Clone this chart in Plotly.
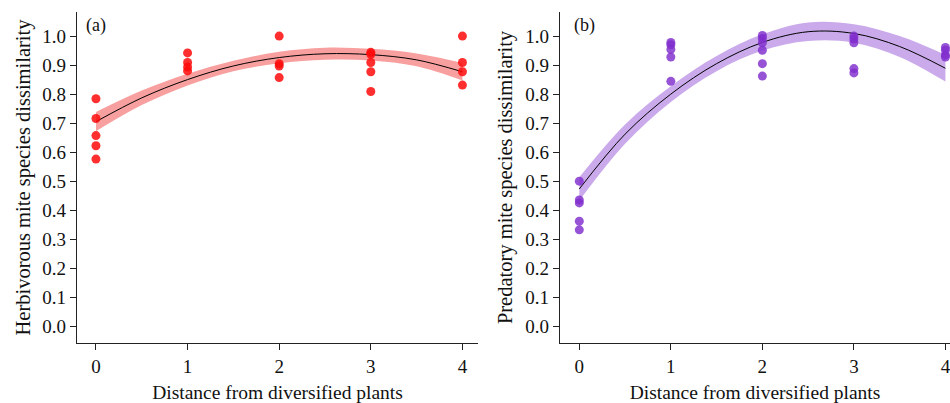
import plotly.graph_objects as go
from plotly.subplots import make_subplots

# ---------------- data ----------------
x_ticks = [0, 1, 2, 3, 4]
y_ticks = [0.0, 0.1, 0.2, 0.3, 0.4, 0.5, 0.6, 0.7, 0.8, 0.9, 1.0]

# Panel (a) herbivorous mites – observed points
herb_x = [0, 0, 0, 0, 0,
          1, 1, 1, 1,
          2, 2, 2, 2,
          3, 3, 3, 3, 3,
          4, 4, 4, 4]
herb_y = [0.784, 0.716, 0.657, 0.622, 0.576,
          0.942, 0.909, 0.893, 0.880,
          1.000, 0.905, 0.897, 0.857,
          0.944, 0.937, 0.909, 0.877, 0.809,
          1.000, 0.909, 0.877, 0.831]

# Panel (a) fitted curve with confidence band
fit_x = [0, 0.5, 1, 1.5, 2, 2.5, 3, 3.5, 4]
herb_fit = [0.705, 0.787, 0.850, 0.897, 0.926, 0.939, 0.936, 0.918, 0.877]
herb_lo = [0.672, 0.762, 0.830, 0.879, 0.906, 0.918, 0.916, 0.896, 0.847]
herb_hi = [0.738, 0.812, 0.870, 0.915, 0.946, 0.960, 0.956, 0.940, 0.907]

# Panel (b) predatory mites – observed points
pred_x = [0, 0, 0, 0, 0,
          1, 1, 1, 1, 1,
          2, 2, 2, 2, 2, 2,
          3, 3, 3, 3, 3,
          4, 4, 4, 4]
pred_y = [0.500, 0.435, 0.425, 0.362, 0.332,
          0.978, 0.970, 0.954, 0.928, 0.844,
          1.002, 0.992, 0.977, 0.951, 0.905, 0.862,
          1.000, 0.990, 0.977, 0.888, 0.873,
          0.961, 0.951, 0.935, 0.928]

pred_fit = [0.473, 0.662, 0.800, 0.905, 0.978, 1.015, 1.009, 0.964, 0.889]
pred_lo = [0.433, 0.629, 0.773, 0.879, 0.950, 0.983, 0.977, 0.928, 0.843]
pred_hi = [0.513, 0.695, 0.827, 0.931, 1.006, 1.047, 1.041, 1.000, 0.935]

# ---------------- figure ----------------
W, H = 950, 403
FONT = "Liberation Serif, Times New Roman, serif"
TICK_SIZE = 19
TITLE_SIZE = 19.5
YTITLE_SIZE = 20.5

fig = make_subplots(rows=1, cols=2, horizontal_spacing=0.05)


def add_panel(col, px, py, fx, fy, lo, hi, pt_color, band_color):
    fig.add_trace(go.Scatter(x=fx, y=lo, mode="lines", line=dict(width=0, shape="spline"),
                             hoverinfo="skip", showlegend=False), row=1, col=col)
    fig.add_trace(go.Scatter(x=fx, y=hi, mode="lines", line=dict(width=0, shape="spline"),
                             fill="tonexty", fillcolor=band_color,
                             hoverinfo="skip", showlegend=False), row=1, col=col)
    fig.add_trace(go.Scatter(x=fx, y=fy, mode="lines",
                             line=dict(color="black", width=1, shape="spline"),
                             showlegend=False), row=1, col=col)
    fig.add_trace(go.Scatter(x=px, y=py, mode="markers",
                             marker=dict(color=pt_color, size=9, line=dict(width=0)),
                             showlegend=False), row=1, col=col)


add_panel(1, herb_x, herb_y, fit_x, herb_fit, herb_lo, herb_hi,
          "rgba(255,10,10,0.85)", "rgba(242,80,80,0.55)")
add_panel(2, pred_x, pred_y, fit_x, pred_fit, pred_lo, pred_hi,
          "rgba(128,45,205,0.82)", "rgba(150,85,215,0.5)")

axis_common = dict(showgrid=False, zeroline=False, showline=True, linecolor="#222",
                   linewidth=1.3, ticks="outside", ticklen=6, tickcolor="#222",
                   ticklabeloverflow="allow",
                   tickfont=dict(family=FONT, size=TICK_SIZE, color="#111"))

fig.update_xaxes(**axis_common, tickvals=x_ticks,
                 title=dict(text="Distance from diversified plants",
                            font=dict(family=FONT, size=TITLE_SIZE, color="#111"), standoff=10))
fig.update_yaxes(**axis_common, tickvals=y_ticks, tickformat=".1f",
                 range=[-0.058, 1.083])

fig.update_yaxes(title=dict(text="Herbivorous mite species dissimilarity",
                            font=dict(family=FONT, size=YTITLE_SIZE, color="#111"), standoff=6),
                 row=1, col=1)
fig.update_yaxes(title=dict(text="Predatory mite species dissimilarity",
                            font=dict(family=FONT, size=YTITLE_SIZE, color="#111"), standoff=7),
                 row=1, col=2)

fig.update_xaxes(range=[-0.207, 4.17], domain=[77 / W, 478 / W], row=1, col=1)
fig.update_xaxes(range=[-0.211, 4.05], domain=[560 / W, 1.0], row=1, col=2)

fig.add_annotation(x=-0.13, y=1.035, xref="x", yref="y", text="(a)", showarrow=False,
                   xanchor="left", yanchor="middle", font=dict(family=FONT, size=18, color="#111"))
fig.add_annotation(x=-0.08, y=1.035, xref="x2", yref="y2", text="(b)", showarrow=False,
                   xanchor="left", yanchor="middle", font=dict(family=FONT, size=18, color="#111"))

fig.update_layout(width=W, height=H, margin=dict(l=0, r=0, t=12, b=60),
                  plot_bgcolor="white", paper_bgcolor="white", showlegend=False)

fig.write_html("out.html")
